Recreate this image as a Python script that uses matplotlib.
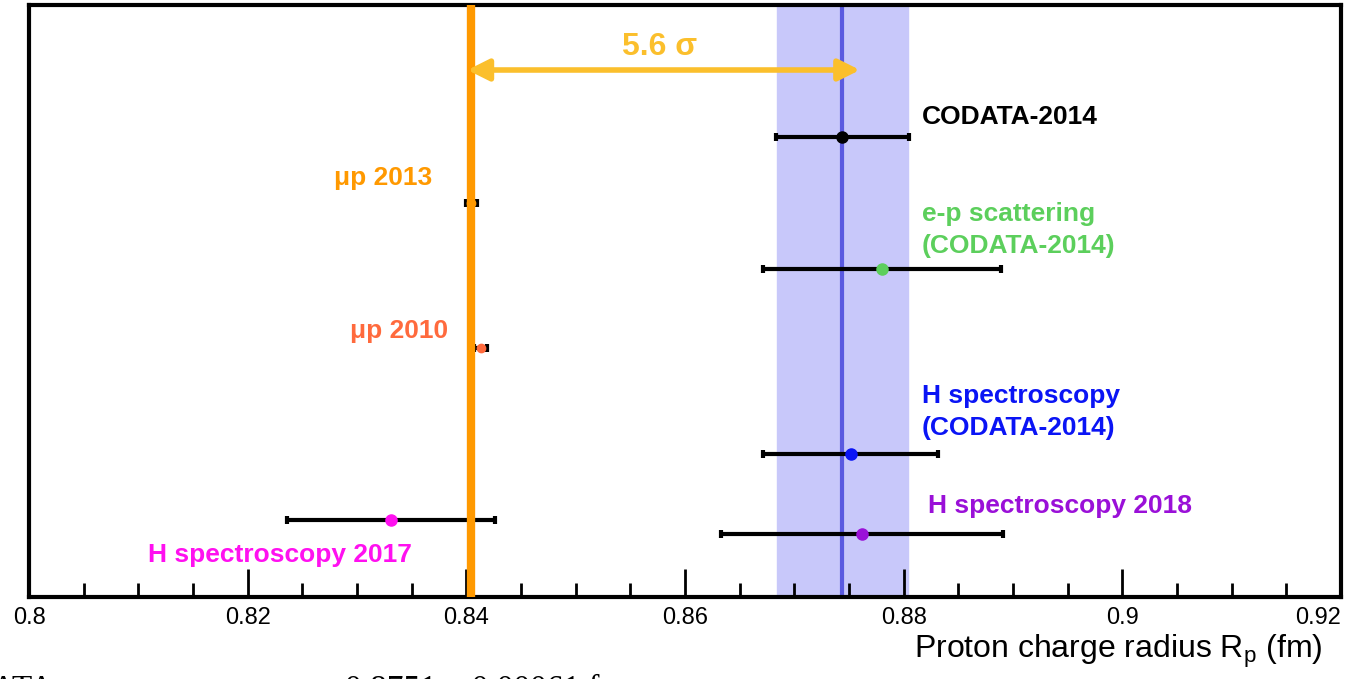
import matplotlib.pyplot as plt

# measurements (fm), top to bottom
labels = ["CODATA-2014", "μp 2013", "e-p scattering\n(CODATA-2014)", "μp 2010",
          "H spectroscopy\n(CODATA-2014)", "H spectroscopy 2017", "H spectroscopy 2018"]
values = [0.8744, 0.84047, 0.8780, 0.8413, 0.87515, 0.8331, 0.8762]
errors = [0.0061, 0.00053, 0.0109, 0.0006, 0.0080, 0.0095, 0.0129]
rows = [137, 203, 269, 348, 454, 520, 534]
colors = ["black", "#ff9900", "#5ccf5c", "#ff6a3d", "#0a14f5", "#ff10f0", "#9a10d8"]

muon_line = 0.8404
codata_line = 0.8744
codata_band = 0.0060
sigma_text = "5.6 σ"

plt.rcParams['font.family'] = ['Liberation Sans', 'DejaVu Sans']
fig = plt.figure(figsize=(13.53, 6.79), dpi=100)
ax = fig.add_axes([29 / 1353, 1 - 597 / 679, 1312 / 1353, 592 / 679])

ax.set_xlim(0.8, 0.92)
ax.set_ylim(597, 5)

ax.axvspan(codata_line - codata_band, codata_line + codata_band, color="#c8c8fa", zorder=0)
ax.axvline(codata_line, color="#5a5ae0", lw=3, zorder=1)
ax.axvline(muon_line, color="#ff9900", lw=6, zorder=3)

for v, e, r, c in zip(values, errors, rows, colors):
    ax.errorbar(v, r, xerr=e, fmt="o", color=c, ecolor="black", elinewidth=3,
                capsize=3, capthick=3, markersize=8 if e > 0.001 else 6, zorder=2)

ax.annotate("", xy=(0.8760, 70), xytext=(0.8401, 70),
            arrowprops=dict(arrowstyle="<|-|>", color="#fbbf2c", lw=4,
                            mutation_scale=32, shrinkA=0, shrinkB=0), zorder=4)
ax.text(0.8577, 47, sigma_text, color="#fbbf2c", fontsize=23, fontweight="bold",
        ha="center", va="center")

lab_kw = dict(fontsize=19, fontweight="bold")
ax.text(0.88168, 117, labels[0], color=colors[0], va="center", **lab_kw)
ax.text(0.83686, 178, labels[1], color=colors[1], va="center", ha="right", **lab_kw)
ax.text(0.88168, 230, labels[2], color=colors[2], va="center", linespacing=1.4, **lab_kw)
ax.text(0.83832, 331, labels[3], color=colors[3], va="center", ha="right", **lab_kw)
ax.text(0.88168, 412, labels[4], color=colors[4], va="center", linespacing=1.4, **lab_kw)
ax.text(0.82296, 555, labels[5], color=colors[5], va="center", ha="center", **lab_kw)
ax.text(0.88223, 506, labels[6], color=colors[6], va="center", **lab_kw)

for s in ax.spines.values():
    s.set_linewidth(3)
ax.set_yticks([])
ax.set_xticks([0.8, 0.82, 0.84, 0.86, 0.88, 0.9, 0.92])
ax.set_xticklabels(["0.8", "0.82", "0.84", "0.86", "0.88", "0.9", "0.92"], fontsize=17)
ax.set_xticks([0.8 + 0.005 * i for i in range(25)], minor=True)
ax.tick_params(axis="x", which="major", direction="in", length=20, width=2, pad=7)
ax.tick_params(axis="x", which="minor", direction="in", length=10, width=2)
ax.get_xticklabels()[-1].set_horizontalalignment("right")

fig.text(1323 / 1353, 1 - 658 / 679, "Proton charge radius R$_{\\mathregular{p}}$ (fm)",
         fontsize=23, ha="right", va="baseline")

# cropped text below the figure
fig.text(-0.058, 1 - 675 / 679, "CODATA", fontsize=24, family="Liberation Serif", va="top")
fig.text(345 / 1353, 1 - 675 / 679, "0.8751 ± 0.00061 fm", fontsize=24,
         family="Liberation Serif", va="top")

fig.savefig("out.png", dpi=100)
